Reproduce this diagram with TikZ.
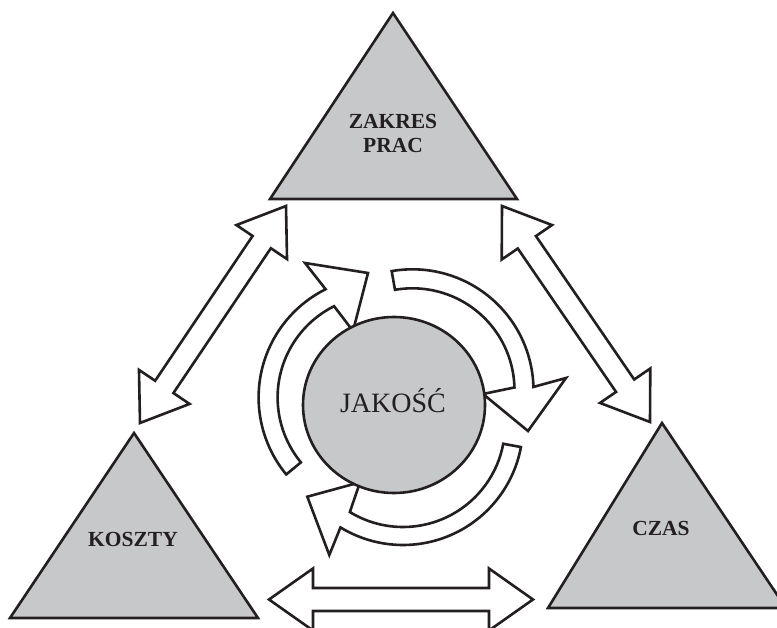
\documentclass[tikz,border=0pt]{standalone}
\usepackage{fontspec}
\setmainfont{Liberation Serif}
\usetikzlibrary{calc}
\definecolor{ink}{RGB}{35,31,32}
\definecolor{shade}{RGB}{199,200,202}
\tikzset{
  outline/.style={draw=ink, line width=2.6pt, line join=miter},
  tri/.style={outline, fill=shade},
  blockarrow/.style={outline, fill=white},
  trilabel/.style={text=ink, font=\fontsize{21.5}{24}\selectfont\bfseries, align=center, inner sep=0pt},
  bigcircle/.style={outline, fill=shade},
}
% double block arrow between two named coordinates
\newcommand{\blockdarrow}[5]{%
  \path ($(#1)!#3!(#2)$) coordinate (ha) ($(#2)!#3!(#1)$) coordinate (hb);
  \draw[blockarrow] (#1) -- ($(ha)!#4!90:(#2)$) -- ($(ha)!#5!90:(#2)$)
    -- ($(hb)!#5!-90:(#1)$) -- ($(hb)!#4!-90:(#1)$) -- (#2)
    -- ($(hb)!#4!90:(#1)$) -- ($(hb)!#5!90:(#1)$)
    -- ($(ha)!#5!-90:(#2)$) -- ($(ha)!#4!-90:(#2)$) -- cycle;
}
% curved block arrow: #1 centre, #2 tail angle, #3 end angle, #4 inner r, #5 outer r, #6 outer barb, #7 tip, #8 inner barb
\newcommand{\circarrow}[8]{%
  \draw[blockarrow] ($(#1)+(#3:#5)$) -- (#6) -- (#7) -- (#8) -- ($(#1)+(#3:#4)$)
    arc[start angle=#3, end angle=#2, radius=#4] -- ($(#1)+(#2:#5)$)
    arc[start angle=#2, end angle=#3, radius=#5] -- cycle;
}
\begin{document}
\begin{tikzpicture}[x=1pt, y=1pt]
\useasboundingbox (0,0) rectangle (777,-628);
\clip (0,0) rectangle (777,-628);

% triangles
\draw[tri] (393,-13) -- (517,-199) -- (270,-199) -- cycle;
\draw[tri] (134,-433) -- (258,-618) -- (10,-618) -- cycle;
\draw[tri] (662,-423) -- (786,-608) -- (548,-608) -- cycle;

% double block arrows
\coordinate (lt) at (286,-206);
\coordinate (lb) at (140,-423);
\coordinate (rt) at (502,-206);
\coordinate (rb) at (650,-422);
\coordinate (bl) at (269,-599.5);
\coordinate (br) at (533,-599.5);
\blockdarrow{lt}{lb}{43.5pt}{30.5pt}{11pt}
\blockdarrow{rt}{rb}{44pt}{30.5pt}{11pt}
\blockdarrow{bl}{br}{44pt}{31pt}{11.5pt}

% curved arrows
\coordinate (c1) at (379.6,-397.5);
\coordinate (bo1) at (305,-263);
\coordinate (tp1) at (368,-273);
\coordinate (bi1) at (353,-331);
\circarrow{c1}{219.5}{116.5}{102pt}{121pt}{bo1}{tp1}{bi1}

\coordinate (c2) at (412.5,-390.3);
\coordinate (bo2) at (566,-378);
\coordinate (tp2) at (528,-431);
\coordinate (bi2) at (483,-394);
\circarrow{c2}{99.9}{1.6}{102pt}{121pt}{bo2}{tp2}{bi2}

\coordinate (c3) at (403,-425);
\coordinate (bo3) at (329.3,-555);
\coordinate (tp3) at (307.3,-496.7);
\coordinate (bi3) at (360,-482.3);
\circarrow{c3}{-10.6}{-121.4}{102pt}{120pt}{bo3}{tp3}{bi3}

% central circle
\draw[bigcircle] (394,-405) ellipse [x radius=91pt, y radius=88pt];
\node[text=ink, font=\fontsize{28}{32}\selectfont, inner sep=0pt, anchor=base] (jakosc) at (393,-413) {JAKOŚĆ};

% labels
\node[trilabel, anchor=base] (zakres) at (393,-152.3) {ZAKRES\\PRAC};
\node[trilabel, anchor=base] (koszty) at (133,-546) {KOSZTY};
\node[trilabel, anchor=base] (czas) at (661,-535) {CZAS};
\end{tikzpicture}
\end{document}
